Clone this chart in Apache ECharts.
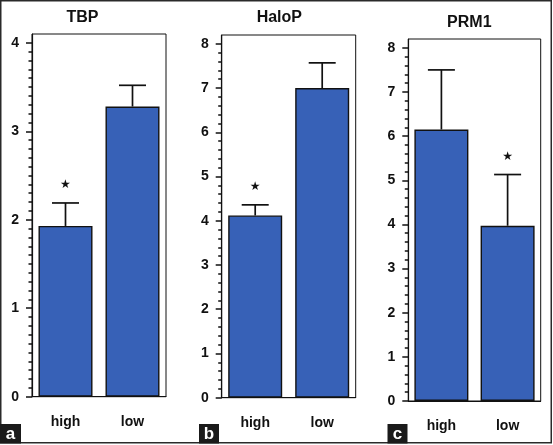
<!DOCTYPE html>
<html>
<head>
<meta charset="utf-8">
<script src="https://cdn.jsdelivr.net/npm/echarts@6/dist/echarts.min.js"></script>
<style>
html,body{margin:0;padding:0;background:#fff;}
#chart{width:553px;height:445px;}
</style>
</head>
<body>
<div id="chart"></div>
<script>
// ---- data ----
const categories = ['high', 'low'];
const titles = ['TBP', 'HaloP', 'PRM1'];
const panelLetters = ['a', 'b', 'c'];

const tbpMean = [1.93, 3.28];
const tbpErr = [0.26, 0.24];
const tbpStar = [true, false];

const haloMean = [4.12, 7.00];
const haloErr = [0.24, 0.57];
const haloStar = [true, false];

const prmMean = [6.15, 3.97];
const prmErr = [1.35, 1.16];
const prmStar = [false, true];

const tbpTicks = [0, 1, 2, 3, 4];
const haloTicks = [0, 1, 2, 3, 4, 5, 6, 7, 8];
const prmTicks = [0, 1, 2, 3, 4, 5, 6, 7, 8];

// ---- layout (positions & styles) ----
const panels = [
  {mean: tbpMean, err: tbpErr, star: tbpStar, ticks: tbpTicks, max: 4.1, minor: 0.1,
   grid: {left: 32, top: 34, width: 134, height: 362.7}, title: [82.5, 18], letter: [0, 424, 21]},
  {mean: haloMean, err: haloErr, star: haloStar, ticks: haloTicks, max: 8.2, minor: 0.2,
   grid: {left: 221.7, top: 35, width: 134, height: 362.7}, title: [279.3, 18], letter: [199, 424, 20]},
  {mean: prmMean, err: prmErr, star: prmStar, ticks: prmTicks, max: 8.2, minor: 0.2,
   grid: {left: 408.3, top: 39, width: 132.4, height: 362}, title: [469.3, 22.5], letter: [387.5, 424, 20]}
];

const FONT = '"Liberation Sans", Arial, Helvetica, sans-serif';
const INK = '#111';
const BAR = '#3761b7';

const grids = [], xAxes = [], yAxes = [], series = [], graphics = [];

panels.forEach((p, i) => {
  grids.push(Object.assign({show: true, borderColor: INK, borderWidth: 1, backgroundColor: '#fff'}, p.grid));

  xAxes.push({
    type: 'category', gridIndex: i, data: categories,
    axisLine: {show: true, lineStyle: {color: INK, width: 1}},
    axisTick: {show: false},
    axisLabel: {color: INK, fontFamily: FONT, fontWeight: 'bold', fontSize: 14, margin: 18}
  });

  const majorMax = p.ticks[p.ticks.length - 1];
  const minorVals = [];
  const nMinor = Math.round(majorMax / p.minor);
  for (let k = 0; k <= nMinor; k++) minorVals.push(+(k * p.minor).toFixed(3));

  // minor tick axis
  yAxes.push({
    type: 'value', gridIndex: i, position: 'left', min: 0, max: p.max,
    axisLine: {show: true, lineStyle: {color: INK, width: 1.2}},
    axisTick: {show: true, length: 3.5, customValues: minorVals, lineStyle: {color: INK, width: 1.5}},
    axisLabel: {show: false},
    splitLine: {show: false}
  });
  // major tick + label axis
  yAxes.push({
    type: 'value', gridIndex: i, position: 'left', min: 0, max: p.max,
    axisLine: {show: false},
    axisTick: {show: true, length: 6, customValues: p.ticks, lineStyle: {color: INK, width: 1.5}},
    axisLabel: {show: true, customValues: p.ticks, color: INK, fontFamily: FONT, fontWeight: 'bold', fontSize: 14, margin: 13},
    splitLine: {show: false}
  });

  series.push({
    type: 'bar', xAxisIndex: i, yAxisIndex: 2 * i + 1,
    data: p.mean, barWidth: 54,
    itemStyle: {color: BAR, borderColor: INK, borderWidth: 1.4},
    silent: true, z: 2
  });

  series.push({
    type: 'custom', xAxisIndex: i, yAxisIndex: 2 * i + 1, z: 5, silent: true,
    data: p.mean.map((m, j) => [j, m, m + p.err[j], p.star[j] ? 1 : 0]),
    renderItem: function (params, api) {
      const base = api.coord([api.value(0), api.value(1)]);
      const top = api.coord([api.value(0), api.value(2)]);
      const half = 13.5;
      const children = [
        {type: 'line', shape: {x1: base[0], y1: base[1], x2: top[0], y2: top[1]},
         style: {stroke: INK, lineWidth: 1.7}},
        {type: 'line', shape: {x1: top[0] - half, y1: top[1], x2: top[0] + half, y2: top[1]},
         style: {stroke: INK, lineWidth: 1.7}}
      ];
      if (api.value(3)) {
        children.push({type: 'text', x: top[0], y: top[1] - 18,
          style: {text: '★', align: 'center', verticalAlign: 'middle', fontSize: 12, fill: INK, fontFamily: '"DejaVu Sans", sans-serif'}});
      }
      return {type: 'group', children: children};
    }
  });

  graphics.push({type: 'text', x: p.title[0], y: p.title[1], z: 10,
    style: {text: titles[i], align: 'center', verticalAlign: 'middle', fill: INK,
            font: 'bold 16px ' + FONT}});

  graphics.push({type: 'rect', shape: {x: p.letter[0], y: p.letter[1], width: p.letter[2], height: 19.5}, z: 10,
    style: {fill: '#1a1a1a'}});
  graphics.push({type: 'text', x: p.letter[0] + p.letter[2] / 2, y: p.letter[1] + 10.5, z: 11,
    style: {text: panelLetters[i], align: 'center', verticalAlign: 'middle', fill: '#fff',
            font: 'bold 17px ' + FONT}});
});

graphics.push({type: 'rect', shape: {x: 0.75, y: 0.75, width: 550.5, height: 442}, z: 9,
  style: {fill: 'none', stroke: '#2a2a2a', lineWidth: 1.5}});

const chart = echarts.init(document.getElementById('chart'), null, {renderer: 'canvas'});
chart.setOption({
  animation: false,
  backgroundColor: '#fff',
  grid: grids,
  xAxis: xAxes,
  yAxis: yAxes,
  series: series,
  graphic: graphics
});
</script>
</body>
</html>
